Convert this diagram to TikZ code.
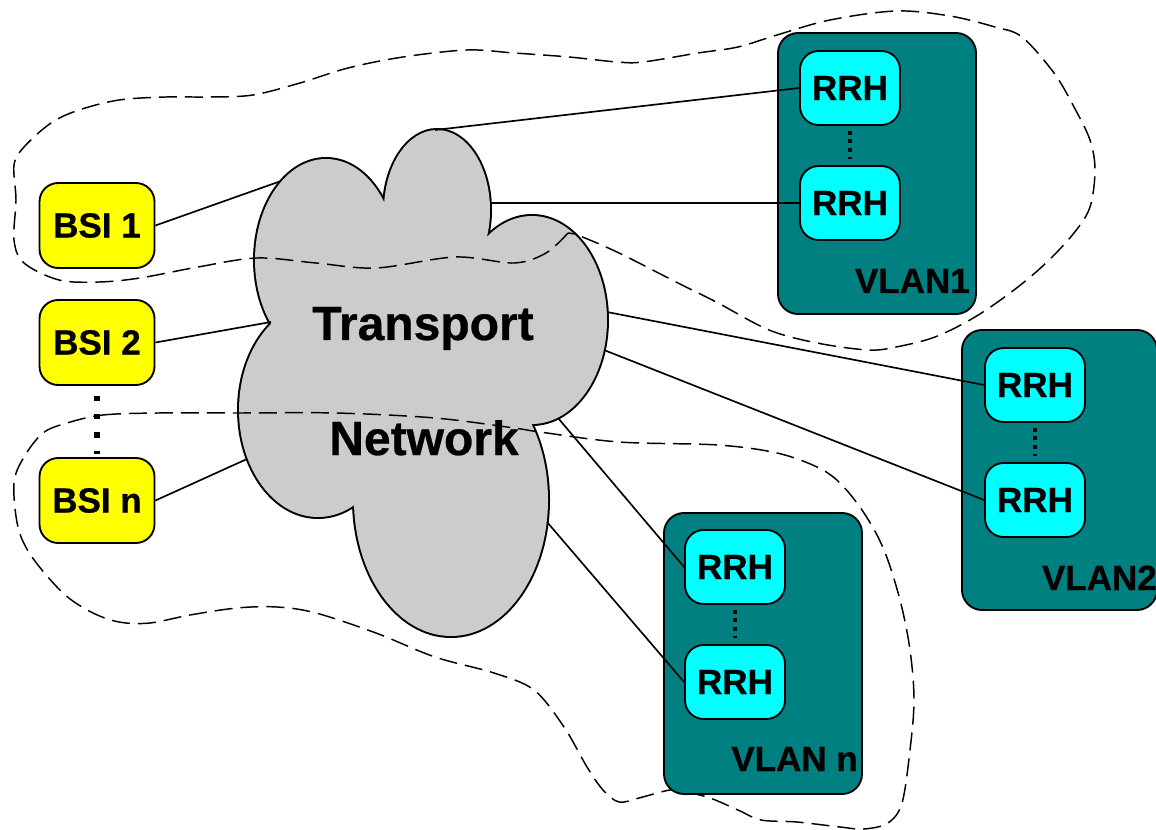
\documentclass[tikz,border=0pt]{standalone}
\usepackage{fontspec}
\setmainfont{Liberation Sans}[BoldFeatures={FakeBold=0.6}]
\definecolor{bsiyellow}{HTML}{FFFF00}
\definecolor{rrhcyan}{HTML}{00FFFF}
\definecolor{vlanteal}{HTML}{008080}
\definecolor{cloudgray}{HTML}{CCCCCC}
\newcommand\cloudlobes{%
  (326,260) ellipse [x radius=53.25pt, y radius=75.75pt]
  (437,210) ellipse [x radius=39.75pt, y radius=60pt]
  (532,320) ellipse [x radius=56.25pt, y radius=78pt]
  (451,500) ellipse [x radius=72.75pt, y radius=102pt]
  (318,410) ellipse [x radius=59.25pt, y radius=80.25pt]}
\begin{document}
\begin{tikzpicture}[x=0.75pt,y=-0.75pt,
  bsibox/.style={draw=black, line width=1.4pt, fill=bsiyellow, rounded corners=14pt,
    minimum width=86.25pt, minimum height=63.75pt, inner sep=0pt,
    font=\bfseries\fontsize{26.25}{30}\selectfont},
  rrhbox/.style={draw=black, line width=1.4pt, fill=rrhcyan, rounded corners=14pt,
    minimum width=75pt, minimum height=55.5pt, inner sep=0pt,
    font=\bfseries\fontsize{26.25}{30}\selectfont},
  vlanbox/.style={draw=black, line width=1.4pt, fill=vlanteal, rounded corners=15pt,
    minimum width=148.5pt, minimum height=210.75pt, inner sep=0pt},
  vlanlabel/.style={anchor=base east, inner sep=0pt, font=\bfseries\fontsize{26.25}{30}\selectfont},
  cloudlabel/.style={anchor=base, inner sep=0pt, font=\bfseries\fontsize{36}{40}\selectfont},
  link/.style={line width=1.25pt},
  groupline/.style={line width=1.1pt, dash pattern=on 13.5pt off 6pt},
  rrhdots/.style={line width=3.4pt, dash pattern=on 3pt off 3.4pt},
  bsidots/.style={line width=3.9pt, dash pattern=on 3.9pt off 9.8pt}]
\useasboundingbox (0,0) rectangle (1156,830);

% transport network cloud: outline pass, then fill pass
\draw[line width=3pt, black] \cloudlobes;
\fill[cloudgray] \cloudlobes;
\fill[cloudgray] (278,325) -- (386,212) -- (480,248) -- (525,418) -- (360,500) -- cycle;
\node[cloudlabel] (tn1) at (423,340) {Transport};
\node[cloudlabel] (tn2) at (424,455) {Network};

% attachment points on the cloud border
\coordinate (c1) at (281,181);
\coordinate (c2) at (271,322);
\coordinate (c3) at (247,459);
\coordinate (c4) at (435,130);
\coordinate (c5) at (490,203);
\coordinate (c6) at (607,312);
\coordinate (c7) at (604,350);
\coordinate (c8) at (558,418);
\coordinate (c9) at (547,522);

% VLAN groupings (dashed outlines)
\draw[groupline] plot[smooth, tension=0.55] coordinates {
  (568,233) (546,253) (514,263) (455,257) (376,268) (316,263) (257,258) (198,267)
  (140,278) (99,282) (59,280) (24,263) (14,240) (16,200) (14,165) (24,147) (51,123)
  (79,110) (119,100) (166,97) (210,97) (253,95) (300,83) (348,68) (403,57) (467,50)
  (514,53) (569,57) (617,62) (643,62) (698,53) (738,47) (777,35) (830,20) (896,11)
  (950,16) (995,27) (1022,37) (1054,73) (1074,107) (1090,140) (1095,170) (1090,207)
  (1074,233) (1046,263) (1014,290) (975,317) (935,337) (896,347) (868,350) (817,343)
  (769,330) (718,303) (678,283) (619,253) (580,236) (568,233)};
\draw[groupline] plot[smooth cycle, tension=0.55] coordinates {
  (67,423) (103,415) (158,413) (237,413) (336,413) (435,418) (514,428) (540,432)
  (619,442) (718,445) (777,453) (817,467) (840,483) (864,513) (884,550) (900,600)
  (910,650) (914,700) (910,750) (902,803) (888,823) (864,829) (840,827) (797,822)
  (761,820) (738,810) (710,798) (686,792) (670,790) (639,798) (619,802) (603,790)
  (587,767) (564,727) (534,690) (494,673) (435,657) (376,633) (316,613) (277,607)
  (237,608) (190,615) (150,623) (119,622) (91,612) (63,593) (32,557) (18,527)
  (14,483) (24,457) (43,433)};

% VLAN containers
\node[vlanbox] (vlan1) at (877,173.5) {};
\node[vlanbox, minimum width=146.25pt, minimum height=210pt] (vlan2) at (1059.5,470) {};
\node[vlanbox] (vlann) at (763,653.5) {};
\node[vlanlabel] (l1) at (970,293) {VLAN1};
\node[vlanlabel] (l2) at (1157,590) {VLAN2};
\node[vlanlabel] (ln) at (858,771) {VLAN n};

% base station interfaces
\node[bsibox] (bsi1) at (97,225.5) {BSI 1};
\node[bsibox] (bsi2) at (97,342.5) {BSI 2};
\node[bsibox] (bsin) at (97,500.5) {BSI n};
\draw[bsidots] ([yshift=-7.5pt]bsi2.south) -- ([yshift=2.25pt]bsin.north);

% remote radio heads
\node[rrhbox] (r11) at (850,88) {RRH};
\node[rrhbox] (r12) at (850,203) {RRH};
\node[rrhbox] (r21) at (1035,385) {RRH};
\node[rrhbox] (r22) at (1035,500) {RRH};
\node[rrhbox] (rn1) at (735,567) {RRH};
\node[rrhbox] (rn2) at (735,682) {RRH};
\draw[rrhdots] ([yshift=-3.75pt]r11.south) -- ([yshift=4.5pt]r12.north);
\draw[rrhdots] ([yshift=-3.75pt]r21.south) -- ([yshift=4.5pt]r22.north);
\draw[rrhdots] ([yshift=-3.75pt]rn1.south) -- ([yshift=4.5pt]rn2.north);

% connections
\draw[link] (bsi1.east) -- (c1);
\draw[link] (bsi2.east) -- (c2);
\draw[link] (bsin.east) -- (c3);
\draw[link] (c4) -- (r11.west);
\draw[link] (c5) -- (r12.west);
\draw[link] (c6) -- (r21.west);
\draw[link] (c7) -- (r22.west);
\draw[link] (c8) -- (rn1.west);
\draw[link] (c9) -- (rn2.west);
\end{tikzpicture}
\end{document}
